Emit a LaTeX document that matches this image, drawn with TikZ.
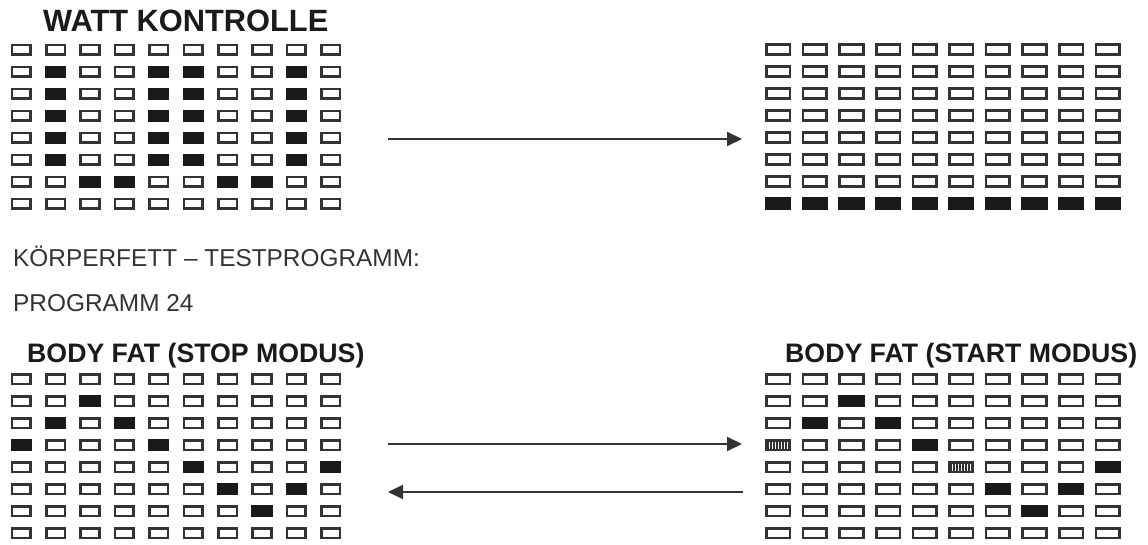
\documentclass[tikz,border=0pt]{standalone}
\usepackage{fontspec}
\setmainfont{Liberation Sans}
\usetikzlibrary{arrows.meta}
\definecolor{ink}{HTML}{1A1A1A}
\definecolor{rim}{HTML}{333333}
\newcommand{\bigtitle}{\fontsize{30.8}{32}\selectfont\bfseries}
\newcommand{\midtitle}{\fontsize{26.7}{28}\selectfont\bfseries}
\newcommand{\plain}{\fontsize{24.4}{26}\selectfont}
\tikzset{
  cell/.style={draw=rim, line width=2.6pt, minimum width=18.6pt, minimum height=9.6pt, inner sep=0pt},
  widecell/.style={cell, minimum width=23.6pt},
  lit/.style={fill=ink, draw=ink},
  flow/.style={draw=rim, line width=2pt, -{Triangle[length=15pt,width=14pt]}},
  head/.style={anchor=base west, inner sep=0pt, text=ink}
}

\begin{document}
\begin{tikzpicture}[x=1pt,y=-1pt]
\useasboundingbox (0,0) rectangle (1148,545);
% headings
\node[head, font=\bigtitle] (watt) at (43,32) {WATT KONTROLLE};
\node[head, font=\plain, text=rim] (fat) at (13,266) {KÖRPERFETT – TESTPROGRAMM:};
\node[head, font=\plain, text=rim] (prog) at (13,311.5) {PROGRAMM 24};
\node[head, font=\midtitle] (stop) at (27,362) {BODY FAT (STOP MODUS)};
\node[head, font=\midtitle] (start) at (785,362) {BODY FAT (START MODUS)};
% watt grids
\foreach \r in {0,...,7}
  \foreach \c in {0,...,9} {
    \node[cell] (wl-\r-\c) at ({21.2+34.4*\c},{50+22*\r}) {};
    \node[widecell] (wr-\r-\c) at ({778.3+36.6*\c},{49.5+22*\r}) {};
  }
\foreach \r in {1,...,5}
  \foreach \c in {1,4,5,8}
    \node[cell,lit] at (wl-\r-\c) {};
\foreach \c in {2,3,6,7}
  \node[cell,lit] at (wl-6-\c) {};
\foreach \c in {0,...,9}
  \node[widecell,lit] at (wr-7-\c) {};
% body fat grids
\foreach \r in {0,...,7}
  \foreach \c in {0,...,9} {
    \node[cell] (sl-\r-\c) at ({21.2+34.4*\c},{379+22*\r}) {};
    \node[widecell] (sr-\r-\c) at ({778.3+36.6*\c},{379+22*\r}) {};
  }
\foreach \r/\c in {1/2,2/1,2/3,3/0,3/4,4/5,4/9,5/6,5/8,6/7}
  \node[cell,lit] at (sl-\r-\c) {};
\foreach \r/\c in {1/2,2/1,2/3,3/4,4/9,5/6,5/8,6/7}
  \node[widecell,lit] at (sr-\r-\c) {};
% striped cells
\foreach \n in {sr-3-0,sr-4-5} {
  \begin{scope}[shift={(\n.center)}]
    \foreach \k in {-10.5,-7.5,...,10.5}
      \draw[rim, line width=1.4pt] (\k,-5) -- (\k,5);
  \end{scope}
}
% arrows
\coordinate (wa) at (388,139);
\coordinate (wb) at (742,139);
\coordinate (fa) at (388,444);
\coordinate (fb) at (742,444);
\coordinate (ba) at (743,492);
\coordinate (bb) at (388,492);
\draw[flow] (wa) -- (wb);
\draw[flow] (fa) -- (fb);
\draw[flow] (ba) -- (bb);
\end{tikzpicture}
\end{document}
